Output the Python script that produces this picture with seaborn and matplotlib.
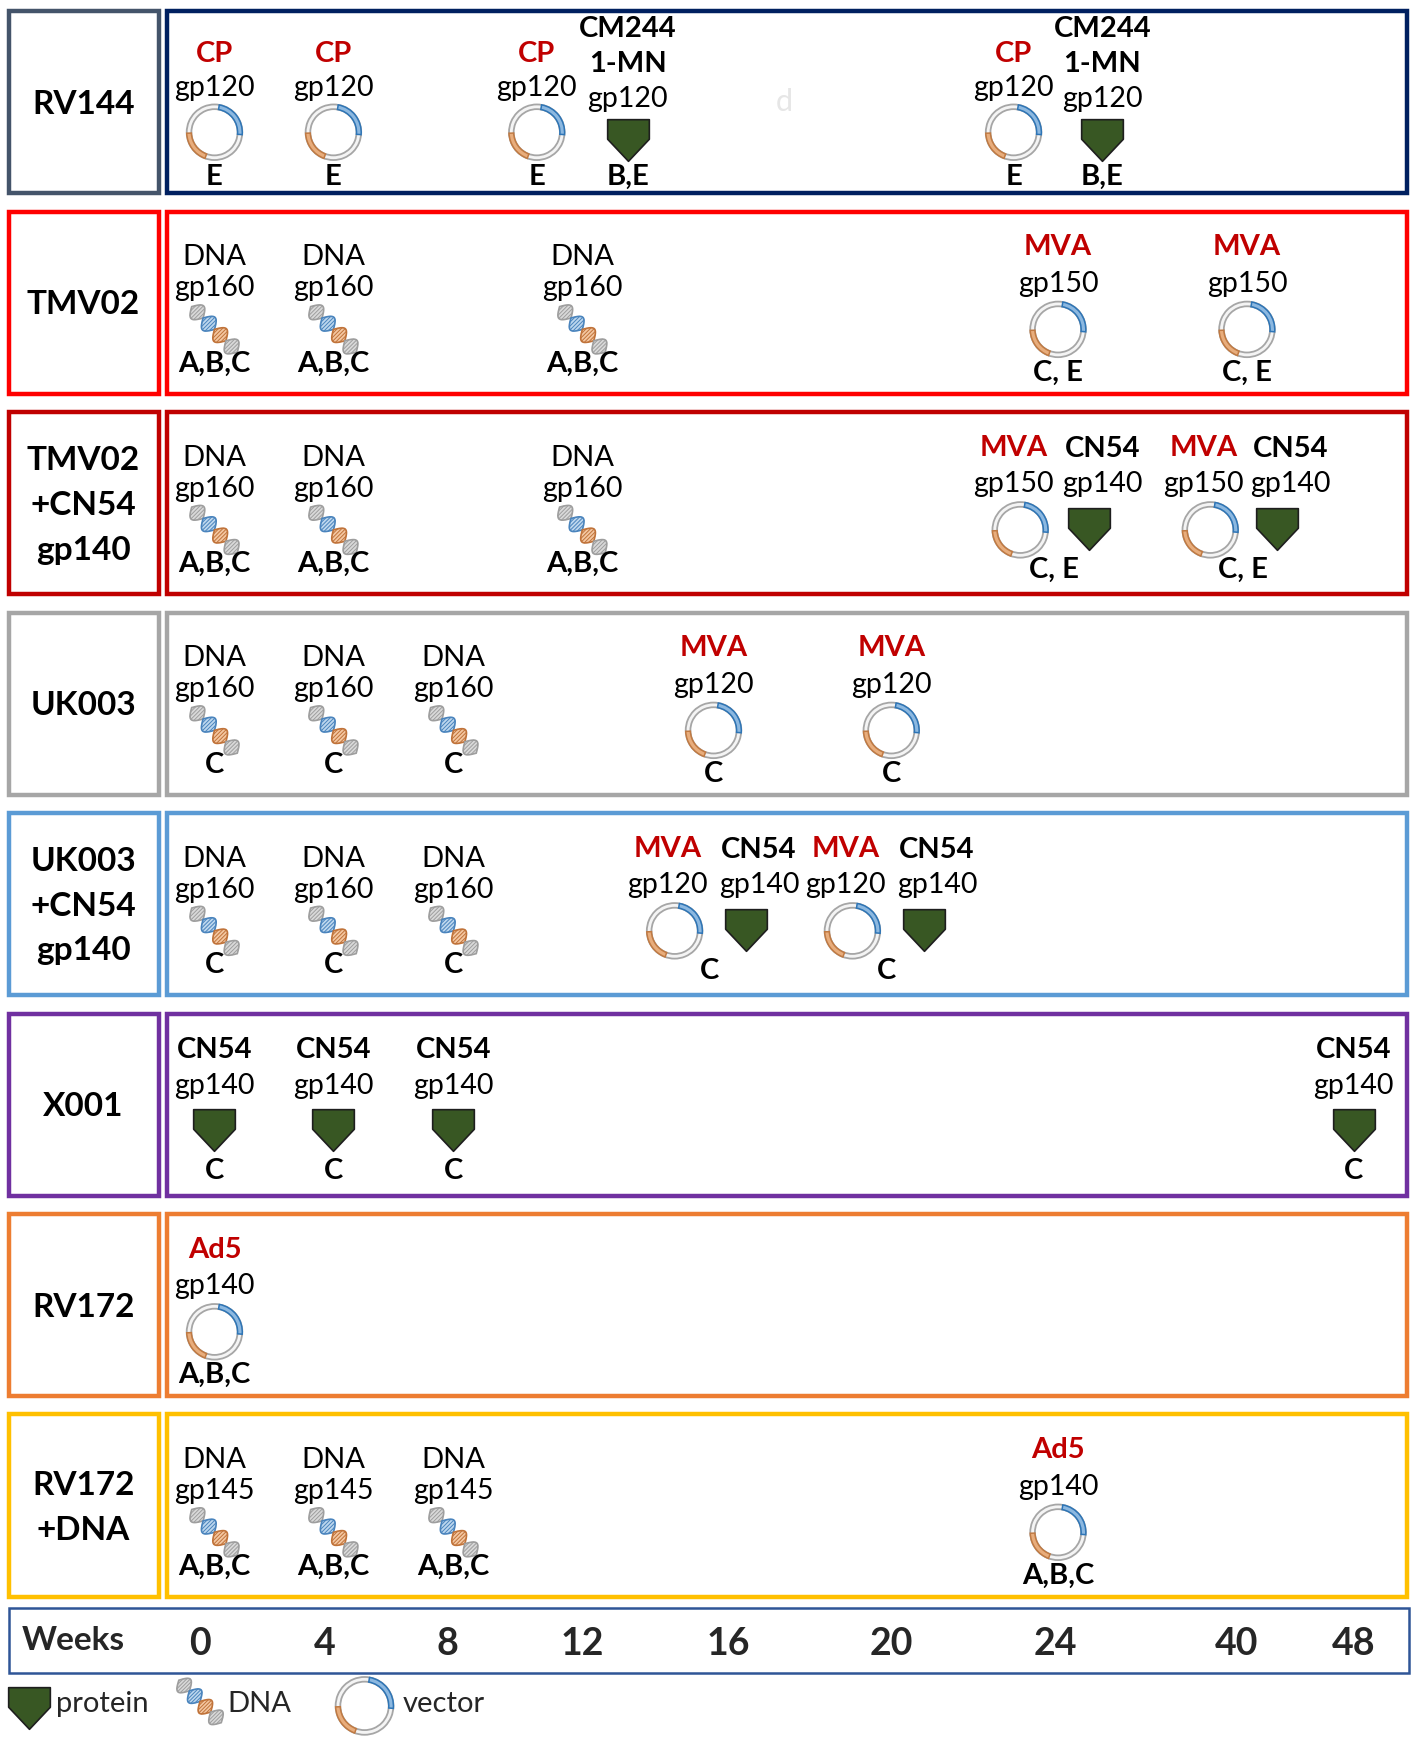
import numpy as np
import pandas as pd
import matplotlib
matplotlib.use("Agg")
import matplotlib.pyplot as plt
from matplotlib.patches import Rectangle, Wedge, Polygon
from matplotlib.path import Path
import seaborn as sns

# ---- data ----
row_labels = ["RV144", "TMV02", "TMV02\n+CN54\ngp140", "UK003", "UK003\n+CN54\ngp140",
              "X001", "RV172", "RV172\n+DNA"]
left_colors = ["#44546A", "#FF0000", "#C00000", "#A6A6A6", "#5B9BD5", "#7030A0", "#ED7D31", "#FFC000"]
right_colors = ["#002060", "#FF0000", "#C00000", "#A6A6A6", "#5B9BD5", "#7030A0", "#ED7D31", "#FFC000"]

week_labels = ["0", "4", "8", "12", "16", "20", "24", "40", "48"]

rv144_weeks = ["0", "4", "12", "12", "24", "24"]
rv144_names = ["CP", "CP", "CP", "CM244\n1-MN", "CP", "CM244\n1-MN"]
rv144_inserts = ["gp120"] * 6
rv144_kinds = ["vector", "vector", "vector", "protein", "vector", "protein"]
rv144_clades = ["E", "E", "E", "B,E", "E", "B,E"]

tmv02_weeks = ["0", "4", "12", "24", "40"]
tmv02_names = ["DNA", "DNA", "DNA", "MVA", "MVA"]
tmv02_inserts = ["gp160", "gp160", "gp160", "gp150", "gp150"]
tmv02_kinds = ["dna", "dna", "dna", "vector", "vector"]
tmv02_clades = ["A,B,C", "A,B,C", "A,B,C", "C, E", "C, E"]

tmvcn_weeks = ["0", "4", "12", "24", "24", "40", "40"]
tmvcn_names = ["DNA", "DNA", "DNA", "MVA", "CN54", "MVA", "CN54"]
tmvcn_inserts = ["gp160", "gp160", "gp160", "gp150", "gp140", "gp150", "gp140"]
tmvcn_kinds = ["dna", "dna", "dna", "vector", "protein", "vector", "protein"]
tmvcn_clades = ["A,B,C", "A,B,C", "A,B,C", "C, E", "", "C, E", ""]

uk003_weeks = ["0", "4", "8", "16", "20"]
uk003_names = ["DNA", "DNA", "DNA", "MVA", "MVA"]
uk003_inserts = ["gp160", "gp160", "gp160", "gp120", "gp120"]
uk003_kinds = ["dna", "dna", "dna", "vector", "vector"]
uk003_clades = ["C", "C", "C", "C", "C"]

ukcn_weeks = ["0", "4", "8", "16", "16", "20", "20"]
ukcn_names = ["DNA", "DNA", "DNA", "MVA", "CN54", "MVA", "CN54"]
ukcn_inserts = ["gp160", "gp160", "gp160", "gp120", "gp140", "gp120", "gp140"]
ukcn_kinds = ["dna", "dna", "dna", "vector", "protein", "vector", "protein"]
ukcn_clades = ["C", "C", "C", "C", "", "C", ""]

x001_weeks = ["0", "4", "8", "48"]
x001_names = ["CN54"] * 4
x001_inserts = ["gp140"] * 4
x001_kinds = ["protein"] * 4
x001_clades = ["C"] * 4

rv172_weeks = ["0"]
rv172_names = ["Ad5"]
rv172_inserts = ["gp140"]
rv172_kinds = ["vector"]
rv172_clades = ["A,B,C"]

rvdna_weeks = ["0", "4", "8", "24"]
rvdna_names = ["DNA", "DNA", "DNA", "Ad5"]
rvdna_inserts = ["gp145", "gp145", "gp145", "gp140"]
rvdna_kinds = ["dna", "dna", "dna", "vector"]
rvdna_clades = ["A,B,C", "A,B,C", "A,B,C", "A,B,C"]

rows = [
    (rv144_weeks, rv144_names, rv144_inserts, rv144_kinds, rv144_clades),
    (tmv02_weeks, tmv02_names, tmv02_inserts, tmv02_kinds, tmv02_clades),
    (tmvcn_weeks, tmvcn_names, tmvcn_inserts, tmvcn_kinds, tmvcn_clades),
    (uk003_weeks, uk003_names, uk003_inserts, uk003_kinds, uk003_clades),
    (ukcn_weeks, ukcn_names, ukcn_inserts, ukcn_kinds, ukcn_clades),
    (x001_weeks, x001_names, x001_inserts, x001_kinds, x001_clades),
    (rv172_weeks, rv172_names, rv172_inserts, rv172_kinds, rv172_clades),
    (rvdna_weeks, rvdna_names, rvdna_inserts, rvdna_kinds, rvdna_clades),
]

# ---- layout (canvas units, y downwards) ----
W, H = 1275, 1572
tick_x = [180, 292, 403, 524, 655, 802, 950, 1113, 1218]
col_x = [193, 300, 408, 524, 642, 802, 952, 1122, 1218]
pair_dx = [0, 0, 0, 41, 41, 41, 40, 39, 0]
row_top0, row_pitch, row_h = 10, 180.4, 164
RED = "#C00000"
GREEN = "#385723"

sns.set_theme(style="white")
plt.rcParams['font.family'] = ['Lato', 'DejaVu Sans']

fig = plt.figure(figsize=(14.17, 17.47), dpi=100)
ax = fig.add_axes([0, 0, 1, 1])

# pentagon marker for protein
prot_marker = Path([(-0.5, 0.5), (0.5, 0.5), (0.5, 0.03), (0, -0.5), (-0.5, 0.03), (-0.5, 0.5)],
                   [Path.MOVETO, Path.LINETO, Path.LINETO, Path.LINETO, Path.LINETO, Path.CLOSEPOLY])


def draw_vector(x, y, r=25):
    ax.add_patch(Wedge((x, y), r, 0, 360, width=4.2, facecolor="#F4F4F4", edgecolor="#A6A6A6", lw=1.3, zorder=3))
    ax.add_patch(Wedge((x, y), r, 280, 365, width=4.2, facecolor="#8CB8E0", edgecolor="#2E75B6", lw=1.1, zorder=4))
    ax.add_patch(Wedge((x, y), r, 110, 178, width=4.2, facecolor="#E8AD7C", edgecolor="#C07A43", lw=1.1, zorder=4))


def draw_dna(x, y, L=58, amp=8):
    u = np.array([1, 1]) / np.sqrt(2)
    n = np.array([1, -1]) / np.sqrt(2)
    segs = [("#D9D9D9", "#9E9E9E"), ("#BDD7EE", "#4A84BD"), ("#F4C7A1", "#C0733A"), ("#D9D9D9", "#9E9E9E")]
    for k, (fc, ec) in enumerate(segs):
        t = np.linspace(k / 4, (k + 1) / 4, 30)
        s = (t - 0.5) * L
        w = amp * np.abs(np.sin(4 * np.pi * t))
        a = np.c_[x + s * u[0] + w * n[0], y + s * u[1] + w * n[1]]
        b = np.c_[x + s * u[0] - w * n[0], y + s * u[1] - w * n[1]]
        ax.add_patch(Polygon(np.vstack([a, b[::-1]]), closed=True, facecolor=fc, edgecolor=ec, lw=1.2, zorder=3))
        for j in range(4, 30, 5):
            ax.plot([a[j, 0], b[j, 0]], [a[j, 1], b[j, 1]], color=ec, lw=0.7, zorder=4)


prot_x, prot_y = [], []

for i, (label, (weeks, names, inserts, kinds, clades)) in enumerate(zip(row_labels, rows)):
    top = row_top0 + i * row_pitch
    ax.add_patch(Rectangle((8, top), 135, row_h, fill=False, edgecolor=left_colors[i], lw=3.2, zorder=2))
    ax.add_patch(Rectangle((150, top), 1116, row_h, fill=False, edgecolor=right_colors[i], lw=3.2, zorder=2))
    ax.text(75, top + row_h / 2 + 2, label, ha="center", va="center", fontsize=24, fontweight="bold",
            linespacing=1.65, color="black", zorder=5)

    multi = any("\n" in nm for nm in names)
    for j, (wk, nm, ins, kd, cl) in enumerate(zip(weeks, names, inserts, kinds, clades)):
        wi = week_labels.index(wk)
        base = col_x[wi]
        same = [k for k, w2 in enumerate(weeks) if w2 == wk]
        shared = False
        if len(same) == 2:
            pos = same.index(j)
            tx = base - pair_dx[wi] if pos == 0 else base + pair_dx[wi]
            shared = clades[same[1]] == ""
        else:
            tx = base
        ix = tx
        if shared:
            ix = tx + 6 if kd == "vector" else tx - 12

        nl = nm.count("\n")
        if kd == "dna":
            y_name, y_ins, y_icon, y_cl = 41, 69, 106, 137
        elif kd == "vector":
            y_name, y_ins, y_icon, y_cl = 32, 65, 106, 145
        else:
            y_name, y_ins, y_icon, y_cl = 33, 65, 105, 142
        if multi:
            y_cl = 149
            y_icon += 3 + 8 * nl
            y_ins += 4 + 10 * nl
            y_name = y_ins - 32 - 15 * nl
            if nl == 0:
                y_name += 2

        if kd == "vector":
            ncol, nw = RED, "bold"
        elif kd == "protein":
            ncol, nw = "black", "bold"
        else:
            ncol, nw = "black", "normal"
        ax.text(tx, top + y_name, nm, ha="center", va="center", fontsize=21, color=ncol, fontweight=nw,
                linespacing=1.4, zorder=5)
        ax.text(tx, top + y_ins, ins, ha="center", va="center", fontsize=20.5, color="black", zorder=5)

        if kd == "vector":
            draw_vector(ix, top + y_icon)
        elif kd == "dna":
            draw_dna(ix, top + y_icon)
        else:
            prot_x.append(ix)
            prot_y.append(top + y_icon)

        if cl:
            cx = base - 4 if shared else tx
            if shared:
                y_cl -= 3
            ax.text(cx, top + y_cl, cl, ha="center", va="center", fontsize=21, fontweight="bold",
                    color="black", zorder=5)

# legend icons positions
legend_y = 1535
prot_x.append(26)
prot_y.append(legend_y + 2)

prot_df = pd.DataFrame({"x": prot_x, "y": prot_y})
sns.scatterplot(data=prot_df, x="x", y="y", marker=prot_marker, s=900, color=GREEN,
                edgecolor="#1E1E1E", linewidth=1.2, legend=False, ax=ax, zorder=4)

# weeks axis box
ax.add_patch(Rectangle((8, 1447), 1260, 58, fill=False, edgecolor="#2F5597", lw=1.8, zorder=2))
ax.text(66, 1476, "Weeks", ha="center", va="center", fontsize=24, fontweight="bold", zorder=5)
for x, lab in zip(tick_x, week_labels):
    ax.text(x, 1479, lab, ha="center", va="center", fontsize=27, fontweight="bold", zorder=5)

# legend
ax.text(50, legend_y - 2, "protein", ha="left", va="center", fontsize=21, zorder=5)
draw_dna(180, legend_y - 4, L=54)
ax.text(205, legend_y - 2, "DNA", ha="left", va="center", fontsize=21, zorder=5)
draw_vector(328, legend_y, r=26)
ax.text(362, legend_y - 2, "vector", ha="left", va="center", fontsize=21, zorder=5)

# faint stray glyph in the source figure
ax.text(706, 92, "d", ha="center", va="center", fontsize=22, color="#E6E6E6", zorder=1)

ax.set_xlim(0, W)
ax.set_ylim(H, 0)
ax.axis("off")
fig.savefig("out.png", dpi=100, facecolor="white")
